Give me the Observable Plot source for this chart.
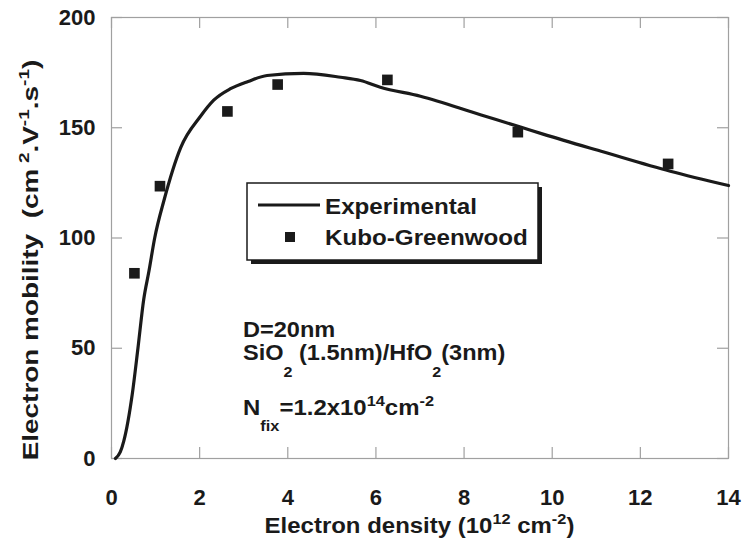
<!DOCTYPE html>
<html><head><meta charset="utf-8">
<script src="https://cdn.jsdelivr.net/npm/d3@7"></script>
<script src="https://cdn.jsdelivr.net/npm/@observablehq/plot@0.6"></script>
<style>body{margin:0;background:#fff;} svg{display:block}</style>
</head><body><div id="chart"></div>
<script>
// Experimental mobility curve (x: 10^12 cm^-2, y: cm^2/V.s)
const curveDensity  = [0.09, 0.2, 0.28, 0.47, 0.6, 0.73, 0.85, 0.98, 1.19, 1.57, 2.02, 2.32, 2.70, 3.1, 3.53, 4.36, 5.2, 5.65, 6.1, 7.01, 8.37, 9.28, 9.81, 11.17, 12.68, 14.0];
const curveMobility = [0,    3,   8,    29,   50,  72,   85,   100,  117,  141,  155.2, 162.5, 167.7, 171, 173.7, 174.7, 172.9, 171.4, 168.4, 164.3, 155.9, 150.3, 147, 139, 130.3, 123.8];
// Kubo-Greenwood points
const kgDensity  = [0.52, 1.10, 2.63, 3.77, 6.26, 9.22, 12.63];
const kgMobility = [84, 123.5, 157.4, 169.6, 171.7, 148, 133.6];
const xTicks = [0, 2, 4, 6, 8, 10, 12, 14];
const yTicks = [0, 50, 100, 150, 200];
const seriesNames = ["Experimental", "Kubo-Greenwood"];

const curve = curveDensity.map((x, i) => ({x, y: curveMobility[i]}));
const pts = kgDensity.map((x, i) => ({x, y: kgMobility[i]}));

const FONT = "'Liberation Sans', Arial, Helvetica, sans-serif";
const gray = "#a0a0a0";
const ink = "#1a1a1a";
const W = 744, H = 541, ML = 111, MR = 16, MT = 17, MB = 83, TICK = 11;
const fw = W - ML - MR, fh = H - MT - MB;

const plot = Plot.plot({
  width: W, height: H,
  marginLeft: ML, marginRight: MR, marginTop: MT, marginBottom: MB,
  style: {fontFamily: FONT, fontSize: "22px", fontWeight: "bold", color: ink, background: "#fff", overflow: "visible"},
  x: {domain: [0, 14]},
  y: {domain: [0, 200]},
  marks: [
    Plot.frame({stroke: gray, strokeWidth: 1.2}),
    Plot.tickX(xTicks, {x: d => d, insetTop: fh - TICK, stroke: gray, strokeWidth: 1.2}),
    Plot.tickX(xTicks, {x: d => d, insetBottom: fh - TICK, stroke: gray, strokeWidth: 1.2}),
    Plot.tickY(yTicks, {y: d => d, insetRight: fw - TICK, stroke: gray, strokeWidth: 1.2}),
    Plot.tickY(yTicks, {y: d => d, insetLeft: fw - TICK, stroke: gray, strokeWidth: 1.2}),
    Plot.axisX(xTicks, {anchor: "bottom", tickSize: 0, tickPadding: 31, label: null}),
    Plot.axisY(yTicks, {anchor: "left", tickSize: 0, tickPadding: 16, label: null}),
    Plot.line(curve, {x: "x", y: "y", stroke: ink, strokeWidth: 3.2, curve: "monotone-x"}),
    Plot.dot(pts, {x: "x", y: "y", symbol: "square", r: 6, fill: ink, stroke: "none"})
  ]
});
document.getElementById("chart").appendChild(plot);

const svg = d3.select(plot);
const g = svg.append("g").attr("font-family", FONT).attr("font-weight", "bold").attr("fill", ink);

// parts: [text, shift] where shift<0 superscript, >0 subscript
function label(parent, x, y, parts, {anchor = "start", sx = 1.08, rotate = 0, size = 22} = {}) {
  const t = parent.append("g")
    .attr("transform", `translate(${x},${y}) rotate(${rotate}) scale(${sx},1)`)
    .append("text").attr("text-anchor", anchor).attr("font-size", size);
  let cur = 0;
  for (const [s, sh] of parts) {
    const sp = t.append("tspan").text(s);
    if (sh !== cur) sp.attr("dy", sh - cur);
    if (sh !== 0) sp.attr("font-size", 15);
    cur = sh;
  }
  return t;
}

// Axis titles
label(g, 38, 260, [["Electron mobility\u00a0\u00a0(cm\u2009", 0], ["2", -9], [".V", 0], ["-1", -9], [".s", 0], ["-1", -9], [")", 0]],
  {anchor: "middle", rotate: -90, sx: 1.27});
label(g, 419.5, 533, [["Electron density (10", 0], ["12", -9], [" cm", 0], ["-2", -9], [")", 0]],
  {anchor: "middle", sx: 1.09});

// Annotations
label(g, 243, 337, [["D=20nm", 0]], {sx: 1.07});
label(g, 243, 360, [["SiO", 0], ["2", 17], [" (1.5nm)/HfO", 0], ["2", 17], ["(3nm)", 0]], {sx: 1.07});
label(g, 243, 415, [["N", 0], ["fix", 16], ["=1.2x10", 0], ["14", -9], ["cm", 0], ["-2", -9]], {sx: 1.09});

// Legend
const lg = svg.append("g");
lg.append("rect").attr("x", 251).attr("y", 187).attr("width", 291).attr("height", 77).attr("fill", ink);
lg.append("rect").attr("x", 247).attr("y", 183).attr("width", 291).attr("height", 77)
  .attr("fill", "#fff").attr("stroke", ink).attr("stroke-width", 1.5);
lg.append("line").attr("x1", 258).attr("x2", 320).attr("y1", 205).attr("y2", 205)
  .attr("stroke", ink).attr("stroke-width", 3.2);
lg.append("rect").attr("x", 285).attr("y", 232).attr("width", 10).attr("height", 10).attr("fill", ink);
const lgText = lg.append("g").attr("font-family", FONT).attr("font-weight", "bold").attr("fill", ink);
seriesNames.forEach((name, i) => label(lgText, 325, i === 0 ? 214 : 245, [[name, 0]], {sx: 1.1}));
</script>
</body></html>
